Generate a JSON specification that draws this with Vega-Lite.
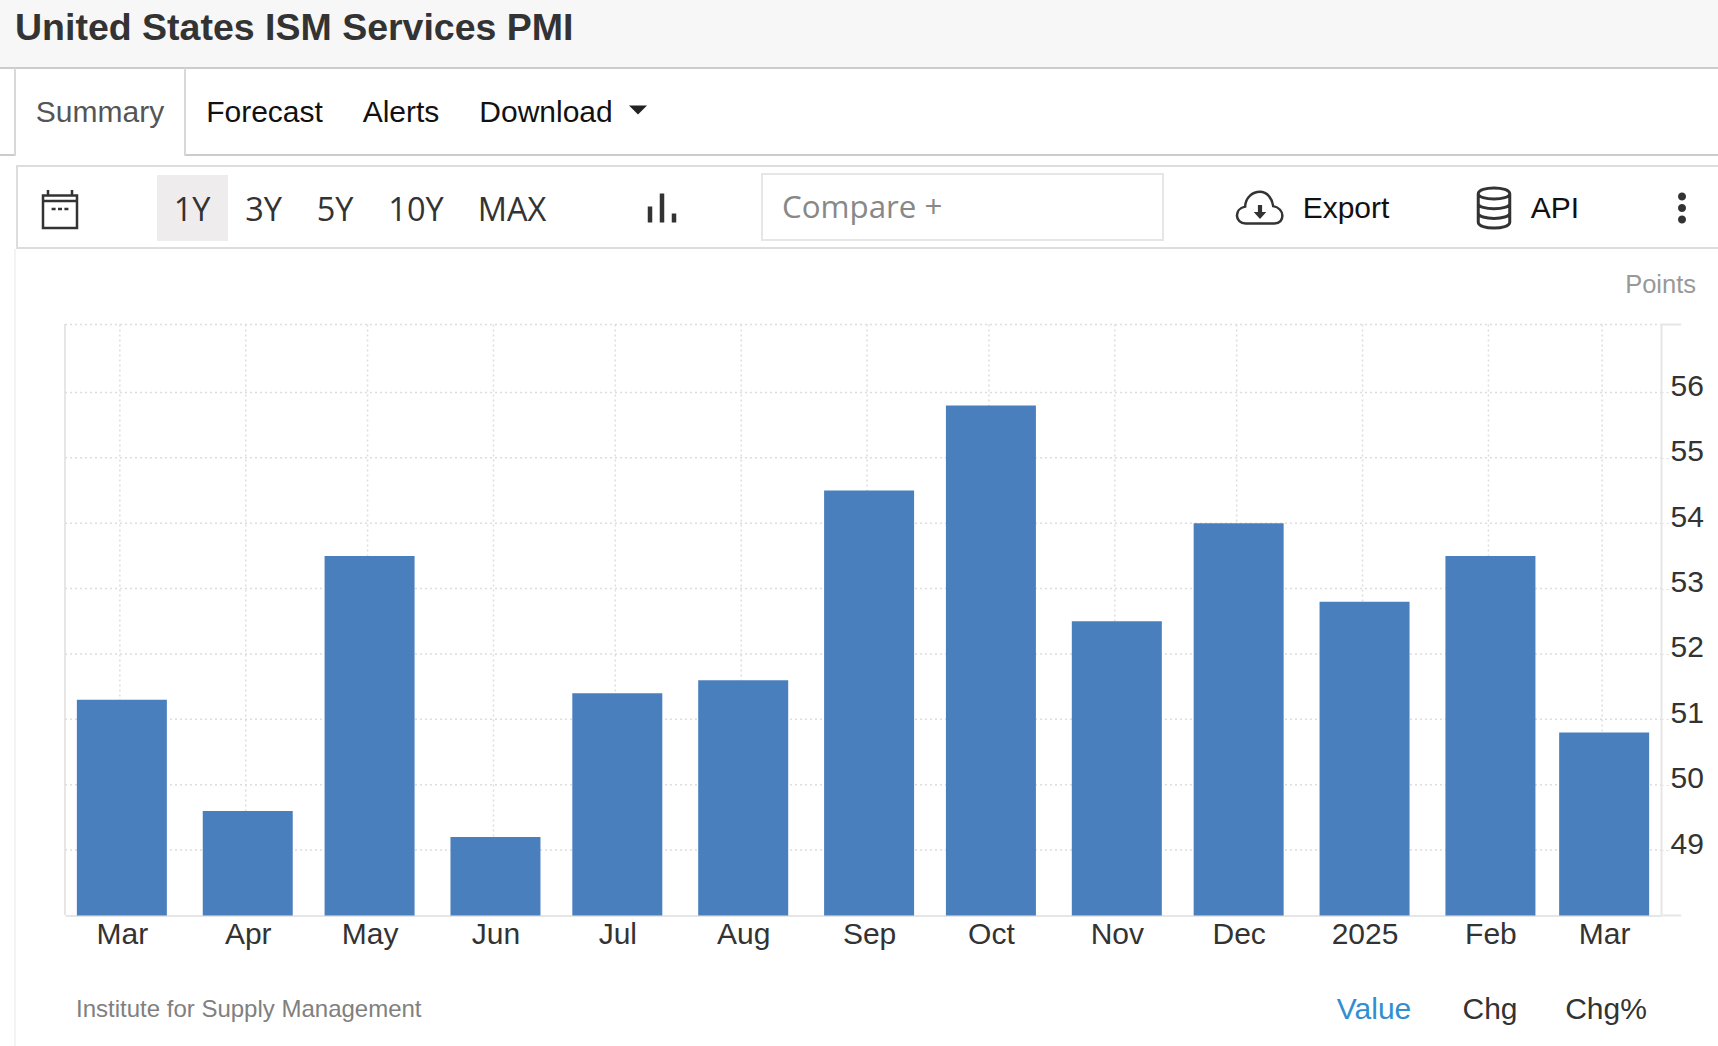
{
  "$schema": "https://vega.github.io/schema/vega-lite/v6.json",
  "description": "United States ISM Services PMI, last twelve months, with the page furniture around it.",
  "width": 1718,
  "height": 1046,
  "padding": 0,
  "autosize": "none",
  "background": "#ffffff",
  "config": {
    "view": {"stroke": null},
    "text": {"font": "Liberation Sans", "fontSize": 30, "baseline": "middle"}
  },
  "resolve": {"scale": {"x": "independent", "y": "independent"}},
  "layer": [
    {
      "data": {"values": [{"part": "header"}]},
      "mark": {"type": "rect", "fill": "#f7f7f7"},
      "encoding": {
        "x": {"field": "part", "type": "nominal", "axis": null, "scale": {"range": [0, 1718]}},
        "y": {"field": "part", "type": "nominal", "axis": null, "scale": {"range": [0, 67]}}
      }
    },
    {
      "data": {"values": [{"part": "header line"}]},
      "mark": {"type": "rect", "fill": "#cccccc"},
      "encoding": {
        "x": {"field": "part", "type": "nominal", "axis": null, "scale": {"range": [0, 1718]}},
        "y": {"field": "part", "type": "nominal", "axis": null, "scale": {"range": [67, 69]}}
      }
    },
    {
      "data": {"values": [{"part": "tab line left"}]},
      "mark": {"type": "rect", "fill": "#cccccc"},
      "encoding": {
        "x": {"field": "part", "type": "nominal", "axis": null, "scale": {"range": [0, 15]}},
        "y": {"field": "part", "type": "nominal", "axis": null, "scale": {"range": [154, 156]}}
      }
    },
    {
      "data": {"values": [{"part": "tab line right"}]},
      "mark": {"type": "rect", "fill": "#cccccc"},
      "encoding": {
        "x": {"field": "part", "type": "nominal", "axis": null, "scale": {"range": [185, 1718]}},
        "y": {"field": "part", "type": "nominal", "axis": null, "scale": {"range": [154, 156]}}
      }
    },
    {
      "data": {"values": [{"part": "tab left"}]},
      "mark": {"type": "rect", "fill": "#d8d8d8"},
      "encoding": {
        "x": {"field": "part", "type": "nominal", "axis": null, "scale": {"range": [14, 16]}},
        "y": {"field": "part", "type": "nominal", "axis": null, "scale": {"range": [68, 156]}}
      }
    },
    {
      "data": {"values": [{"part": "tab right"}]},
      "mark": {"type": "rect", "fill": "#d8d8d8"},
      "encoding": {
        "x": {"field": "part", "type": "nominal", "axis": null, "scale": {"range": [184, 186]}},
        "y": {"field": "part", "type": "nominal", "axis": null, "scale": {"range": [68, 156]}}
      }
    },
    {
      "data": {"values": [{"part": "toolbar"}]},
      "mark": {"type": "rect", "fill": "#ffffff", "stroke": "#dddddd", "strokeWidth": 2},
      "encoding": {
        "x": {"field": "part", "type": "nominal", "axis": null, "scale": {"range": [17, 1740]}},
        "y": {"field": "part", "type": "nominal", "axis": null, "scale": {"range": [166, 248]}}
      }
    },
    {
      "data": {"values": [{"part": "active range"}]},
      "mark": {"type": "rect", "fill": "#efecee"},
      "encoding": {
        "x": {"field": "part", "type": "nominal", "axis": null, "scale": {"range": [157, 228]}},
        "y": {"field": "part", "type": "nominal", "axis": null, "scale": {"range": [175, 241]}}
      }
    },
    {
      "data": {"values": [{"part": "compare box"}]},
      "mark": {"type": "rect", "fill": "#ffffff", "stroke": "#e6e6e6", "strokeWidth": 2},
      "encoding": {
        "x": {"field": "part", "type": "nominal", "axis": null, "scale": {"range": [762, 1163]}},
        "y": {"field": "part", "type": "nominal", "axis": null, "scale": {"range": [174, 240]}}
      }
    },
    {
      "data": {"values": [{"part": "page edge"}]},
      "mark": {"type": "rect", "fill": "#f3f3f3"},
      "encoding": {
        "x": {"field": "part", "type": "nominal", "axis": null, "scale": {"range": [14, 16]}},
        "y": {"field": "part", "type": "nominal", "axis": null, "scale": {"range": [249, 1046]}}
      }
    },
    {
      "data": {"values": [{"part": "plot left"}]},
      "mark": {"type": "rect", "fill": "#e6e6e6"},
      "encoding": {
        "x": {"field": "part", "type": "nominal", "axis": null, "scale": {"range": [64, 66]}},
        "y": {"field": "part", "type": "nominal", "axis": null, "scale": {"range": [324, 915]}}
      }
    },
    {
      "data": {"values": [
        {"month": "2024-03-01", "pmi": 51.3},
        {"month": "2024-04-01", "pmi": 49.6},
        {"month": "2024-05-01", "pmi": 53.5},
        {"month": "2024-06-01", "pmi": 49.2},
        {"month": "2024-07-01", "pmi": 51.4},
        {"month": "2024-08-01", "pmi": 51.6},
        {"month": "2024-09-01", "pmi": 54.5},
        {"month": "2024-10-01", "pmi": 55.8},
        {"month": "2024-11-01", "pmi": 52.5},
        {"month": "2024-12-01", "pmi": 54.0},
        {"month": "2025-01-01", "pmi": 52.8},
        {"month": "2025-02-01", "pmi": 53.5},
        {"month": "2025-03-01", "pmi": 50.8}
      ]},
      "encoding": {
        "x": {
          "field": "month",
          "type": "temporal",
          "scale": {
            "type": "utc",
            "domain": [
              {"year": 2024, "month": 2, "date": 16, "utc": true},
              {"year": 2025, "month": 3, "date": 15, "utc": true}
            ],
            "range": [65, 1661],
            "nice": false,
            "padding": 0
          }
        },
        "y": {
          "type": "quantitative",
          "scale": {"domain": [48, 57.04], "range": [915.5, 324.5], "zero": false, "nice": false}
        }
      },
      "layer": [
        {
          "mark": {"type": "rule", "color": "#dddddd", "strokeWidth": 1.5, "strokeDash": [2, 3], "xOffset": -2},
          "encoding": {
            "x": {"field": "month", "type": "temporal"},
            "y": {"datum": 57.04, "type": "quantitative"},
            "y2": {"datum": 48}
          }
        },
        {
          "data": {"values": [
            {"level": 49, "from": "2024-02-16", "to": "2025-03-15"},
            {"level": 50, "from": "2024-02-16", "to": "2025-03-15"},
            {"level": 51, "from": "2024-02-16", "to": "2025-03-15"},
            {"level": 52, "from": "2024-02-16", "to": "2025-03-15"},
            {"level": 53, "from": "2024-02-16", "to": "2025-03-15"},
            {"level": 54, "from": "2024-02-16", "to": "2025-03-15"},
            {"level": 55, "from": "2024-02-16", "to": "2025-03-15"},
            {"level": 56, "from": "2024-02-16", "to": "2025-03-15"},
            {"level": 57.04, "from": "2024-02-16", "to": "2025-03-15"}
          ]},
          "mark": {"type": "rule", "color": "#dddddd", "strokeWidth": 1.5, "strokeDash": [2, 3]},
          "encoding": {
            "x": {"field": "from", "type": "temporal"},
            "x2": {"field": "to"},
            "y": {"field": "level", "type": "quantitative"}
          }
        },
        {
          "data": {"values": [
            {"level": 48, "from": "2025-03-15", "to": "2025-03-20"},
            {"level": 57.04, "from": "2025-03-15", "to": "2025-03-20"}
          ]},
          "mark": {"type": "rule", "color": "#e6e6e6", "strokeWidth": 2},
          "encoding": {
            "x": {"field": "from", "type": "temporal"},
            "x2": {"field": "to"},
            "y": {"field": "level", "type": "quantitative"}
          }
        },
        {
          "mark": {"type": "bar", "width": 90, "color": "#4a7fbd"},
          "encoding": {
            "x": {
              "field": "month",
              "type": "temporal",
              "axis": {
                "title": null,
                "offset": -130.5,
                "grid": false,
                "ticks": false,
                "domainColor": "#e6e6e6",
                "domainWidth": 2,
                "tickCount": {"interval": "month", "step": 1},
                "labelExpr": "month(datum.value) == 0 ? timeFormat(datum.value, '%Y') : timeFormat(datum.value, '%b')",
                "labelFont": "Liberation Sans",
                "labelFontSize": 30,
                "labelColor": "#333333",
                "labelPadding": 4,
                "labelOverlap": false,
                "labelFlush": false
              }
            },
            "y": {
              "field": "pmi",
              "type": "quantitative",
              "axis": {
                "title": null,
                "orient": "right",
                "offset": -57,
                "grid": false,
                "values": [49, 50, 51, 52, 53, 54, 55, 56],
                "format": "d",
                "domainColor": "#e6e6e6",
                "domainWidth": 2,
                "tickColor": "#dddddd",
                "tickDash": [2, 3],
                "tickSize": 9,
                "labelFont": "Liberation Sans",
                "labelFontSize": 30,
                "labelColor": "#333333",
                "labelPadding": 0,
                "labelOffset": -6
              }
            },
            "y2": {"datum": 48}
          }
        }
      ]
    },
    {
      "data": {"values": [{"label": "United States ISM Services PMI"}]},
      "mark": {"type": "text", "align": "left", "fontWeight": "bold", "fontSize": 37.5, "color": "#333333"},
      "encoding": {
        "text": {"field": "label"},
        "x": {"field": "label", "type": "nominal", "axis": null, "scale": {"range": [15, 15]}},
        "y": {"field": "label", "type": "nominal", "axis": null, "scale": {"range": [29, 29]}}
      }
    },
    {
      "data": {"values": [{"label": "Summary"}]},
      "mark": {"type": "text", "color": "#555555"},
      "encoding": {
        "text": {"field": "label"},
        "x": {"field": "label", "type": "nominal", "axis": null, "scale": {"range": [100, 100]}},
        "y": {"field": "label", "type": "nominal", "axis": null, "scale": {"range": [113, 113]}}
      }
    },
    {
      "data": {"values": [{"label": "Forecast"}]},
      "mark": {"type": "text", "color": "#111111"},
      "encoding": {
        "text": {"field": "label"},
        "x": {"field": "label", "type": "nominal", "axis": null, "scale": {"range": [264.5, 264.5]}},
        "y": {"field": "label", "type": "nominal", "axis": null, "scale": {"range": [113, 113]}}
      }
    },
    {
      "data": {"values": [{"label": "Alerts"}]},
      "mark": {"type": "text", "color": "#111111"},
      "encoding": {
        "text": {"field": "label"},
        "x": {"field": "label", "type": "nominal", "axis": null, "scale": {"range": [401, 401]}},
        "y": {"field": "label", "type": "nominal", "axis": null, "scale": {"range": [113, 113]}}
      }
    },
    {
      "data": {"values": [{"label": "Download"}]},
      "mark": {"type": "text", "color": "#111111"},
      "encoding": {
        "text": {"field": "label"},
        "x": {"field": "label", "type": "nominal", "axis": null, "scale": {"range": [546, 546]}},
        "y": {"field": "label", "type": "nominal", "axis": null, "scale": {"range": [113, 113]}}
      }
    },
    {
      "data": {"values": [{"label": "1Y"}, {"label": "3Y"}, {"label": "5Y"}]},
      "mark": {"type": "text", "font": "Open Sans", "fontSize": 32.5, "color": "#333333"},
      "encoding": {
        "text": {"field": "label"},
        "x": {"field": "label", "type": "nominal", "axis": null, "scale": {"domain": ["1Y", "3Y", "5Y"], "type": "point", "padding": 0, "range": [192, 335]}},
        "y": {"datum": "row", "type": "nominal", "axis": null, "scale": {"range": [211, 211]}}
      }
    },
    {
      "data": {"values": [{"label": "10Y"}]},
      "mark": {"type": "text", "font": "Open Sans", "fontSize": 32.5, "color": "#333333"},
      "encoding": {
        "text": {"field": "label"},
        "x": {"field": "label", "type": "nominal", "axis": null, "scale": {"range": [416, 416]}},
        "y": {"field": "label", "type": "nominal", "axis": null, "scale": {"range": [211, 211]}}
      }
    },
    {
      "data": {"values": [{"label": "MAX"}]},
      "mark": {"type": "text", "font": "Open Sans", "fontSize": 32.5, "color": "#333333"},
      "encoding": {
        "text": {"field": "label"},
        "x": {"field": "label", "type": "nominal", "axis": null, "scale": {"range": [512, 512]}},
        "y": {"field": "label", "type": "nominal", "axis": null, "scale": {"range": [211, 211]}}
      }
    },
    {
      "data": {"values": [{"label": "Compare +"}]},
      "mark": {"type": "text", "font": "Open Sans", "fontSize": 31.3, "align": "left", "color": "#888888"},
      "encoding": {
        "text": {"field": "label"},
        "x": {"field": "label", "type": "nominal", "axis": null, "scale": {"range": [782, 782]}},
        "y": {"field": "label", "type": "nominal", "axis": null, "scale": {"range": [209, 209]}}
      }
    },
    {
      "data": {"values": [{"label": "Export"}]},
      "mark": {"type": "text", "color": "#111111"},
      "encoding": {
        "text": {"field": "label"},
        "x": {"field": "label", "type": "nominal", "axis": null, "scale": {"range": [1346, 1346]}},
        "y": {"field": "label", "type": "nominal", "axis": null, "scale": {"range": [209, 209]}}
      }
    },
    {
      "data": {"values": [{"label": "API"}]},
      "mark": {"type": "text", "color": "#111111"},
      "encoding": {
        "text": {"field": "label"},
        "x": {"field": "label", "type": "nominal", "axis": null, "scale": {"range": [1555, 1555]}},
        "y": {"field": "label", "type": "nominal", "axis": null, "scale": {"range": [209, 209]}}
      }
    },
    {
      "data": {"values": [{"label": "Points"}]},
      "mark": {"type": "text", "align": "right", "fontSize": 25.5, "color": "#999999"},
      "encoding": {
        "text": {"field": "label"},
        "x": {"field": "label", "type": "nominal", "axis": null, "scale": {"range": [1696, 1696]}},
        "y": {"field": "label", "type": "nominal", "axis": null, "scale": {"range": [285, 285]}}
      }
    },
    {
      "data": {"values": [{"label": "Institute for Supply Management"}]},
      "mark": {"type": "text", "align": "left", "fontSize": 24, "color": "#808080"},
      "encoding": {
        "text": {"field": "label"},
        "x": {"field": "label", "type": "nominal", "axis": null, "scale": {"range": [76, 76]}},
        "y": {"field": "label", "type": "nominal", "axis": null, "scale": {"range": [1010, 1010]}}
      }
    },
    {
      "data": {"values": [{"label": "Value"}, {"label": "Chg"}, {"label": "Chg%"}]},
      "mark": {"type": "text"},
      "encoding": {
        "text": {"field": "label"},
        "color": {"field": "label", "type": "nominal", "legend": null, "scale": {"domain": ["Value", "Chg", "Chg%"], "range": ["#2f8fd0", "#333333", "#333333"]}},
        "x": {"field": "label", "type": "nominal", "axis": null, "scale": {"domain": ["Value", "Chg", "Chg%"], "type": "point", "padding": 0, "range": [1374, 1606]}},
        "y": {"datum": "row", "type": "nominal", "axis": null, "scale": {"range": [1010, 1010]}}
      }
    },
    {
      "data": {"values": [{"icon": "menu caret"}]},
      "mark": {"type": "point", "filled": true, "opacity": 1, "color": "#222222", "size": 324, "shape": "M-1 -0.5H1L0 0.5Z"},
      "encoding": {
        "x": {"field": "icon", "type": "nominal", "axis": null, "scale": {"range": [638, 638]}},
        "y": {"field": "icon", "type": "nominal", "axis": null, "scale": {"range": [110, 110]}}
      }
    },
    {
      "data": {"values": [{"icon": "calendar"}]},
      "mark": {"type": "point", "filled": false, "opacity": 1, "color": "#333333", "strokeWidth": 2.5, "size": 1600, "shape": "M-0.85 -0.72H0.85V0.9H-0.85Z M-0.85 -0.45H0.85 M-0.6 -1V-0.72 M0.6 -1V-0.72 M-0.42 -0.05H-0.22 M-0.1 -0.05H0.1 M0.22 -0.05H0.42"},
      "encoding": {
        "x": {"field": "icon", "type": "nominal", "axis": null, "scale": {"range": [60, 60]}},
        "y": {"field": "icon", "type": "nominal", "axis": null, "scale": {"range": [210, 210]}}
      }
    },
    {
      "data": {"values": [{"icon": "chart type"}]},
      "mark": {"type": "point", "filled": false, "opacity": 1, "color": "#333333", "strokeWidth": 4.5, "size": 1024, "shape": "M-0.75 0.9V-0.1 M0 0.9V-0.9 M0.75 0.9V0.35"},
      "encoding": {
        "x": {"field": "icon", "type": "nominal", "axis": null, "scale": {"range": [662, 662]}},
        "y": {"field": "icon", "type": "nominal", "axis": null, "scale": {"range": [208, 208]}}
      }
    },
    {
      "data": {"values": [{"icon": "cloud"}]},
      "mark": {"type": "point", "filled": false, "opacity": 1, "color": "#333333", "strokeWidth": 2.5, "size": 2304, "shape": "M-0.6 0.6C-1.05 0.6 -1.1 0 -0.62 -0.1C-0.6 -0.5 -0.3 -0.72 0 -0.72C0.3 -0.72 0.5 -0.45 0.55 -0.12C1.05 -0.02 1.05 0.6 0.6 0.6Z"},
      "encoding": {
        "x": {"field": "icon", "type": "nominal", "axis": null, "scale": {"range": [1260, 1260]}},
        "y": {"field": "icon", "type": "nominal", "axis": null, "scale": {"range": [209, 209]}}
      }
    },
    {
      "data": {"values": [{"icon": "cloud arrow"}]},
      "mark": {"type": "point", "filled": true, "opacity": 1, "color": "#333333", "size": 196, "shape": "M-0.3 -1H0.3V0H0.9L0 1L-0.9 0H-0.3Z"},
      "encoding": {
        "x": {"field": "icon", "type": "nominal", "axis": null, "scale": {"range": [1260, 1260]}},
        "y": {"field": "icon", "type": "nominal", "axis": null, "scale": {"range": [212, 212]}}
      }
    },
    {
      "data": {"values": [{"icon": "database"}]},
      "mark": {"type": "point", "filled": false, "opacity": 1, "color": "#333333", "strokeWidth": 3, "size": 1764, "shape": "M-0.75 -0.68C-0.75 -1.05 0.75 -1.05 0.75 -0.68C0.75 -0.35 -0.75 -0.35 -0.75 -0.68Z M-0.75 -0.68V0.68C-0.75 1.05 0.75 1.05 0.75 0.68V-0.68 M-0.75 -0.22C-0.75 0.12 0.75 0.12 0.75 -0.22 M-0.75 0.24C-0.75 0.58 0.75 0.58 0.75 0.24"},
      "encoding": {
        "x": {"field": "icon", "type": "nominal", "axis": null, "scale": {"range": [1494, 1494]}},
        "y": {"field": "icon", "type": "nominal", "axis": null, "scale": {"range": [208, 208]}}
      }
    },
    {
      "data": {"values": [{"icon": "more"}]},
      "mark": {"type": "point", "filled": true, "opacity": 1, "color": "#333333", "size": 1024, "shape": "M-0.25 -0.72C-0.25 -1.05 0.25 -1.05 0.25 -0.72C0.25 -0.39 -0.25 -0.39 -0.25 -0.72Z M-0.25 0C-0.25 -0.33 0.25 -0.33 0.25 0C0.25 0.33 -0.25 0.33 -0.25 0Z M-0.25 0.72C-0.25 0.39 0.25 0.39 0.25 0.72C0.25 1.05 -0.25 1.05 -0.25 0.72Z"},
      "encoding": {
        "x": {"field": "icon", "type": "nominal", "axis": null, "scale": {"range": [1682, 1682]}},
        "y": {"field": "icon", "type": "nominal", "axis": null, "scale": {"range": [208, 208]}}
      }
    }
  ]
}
